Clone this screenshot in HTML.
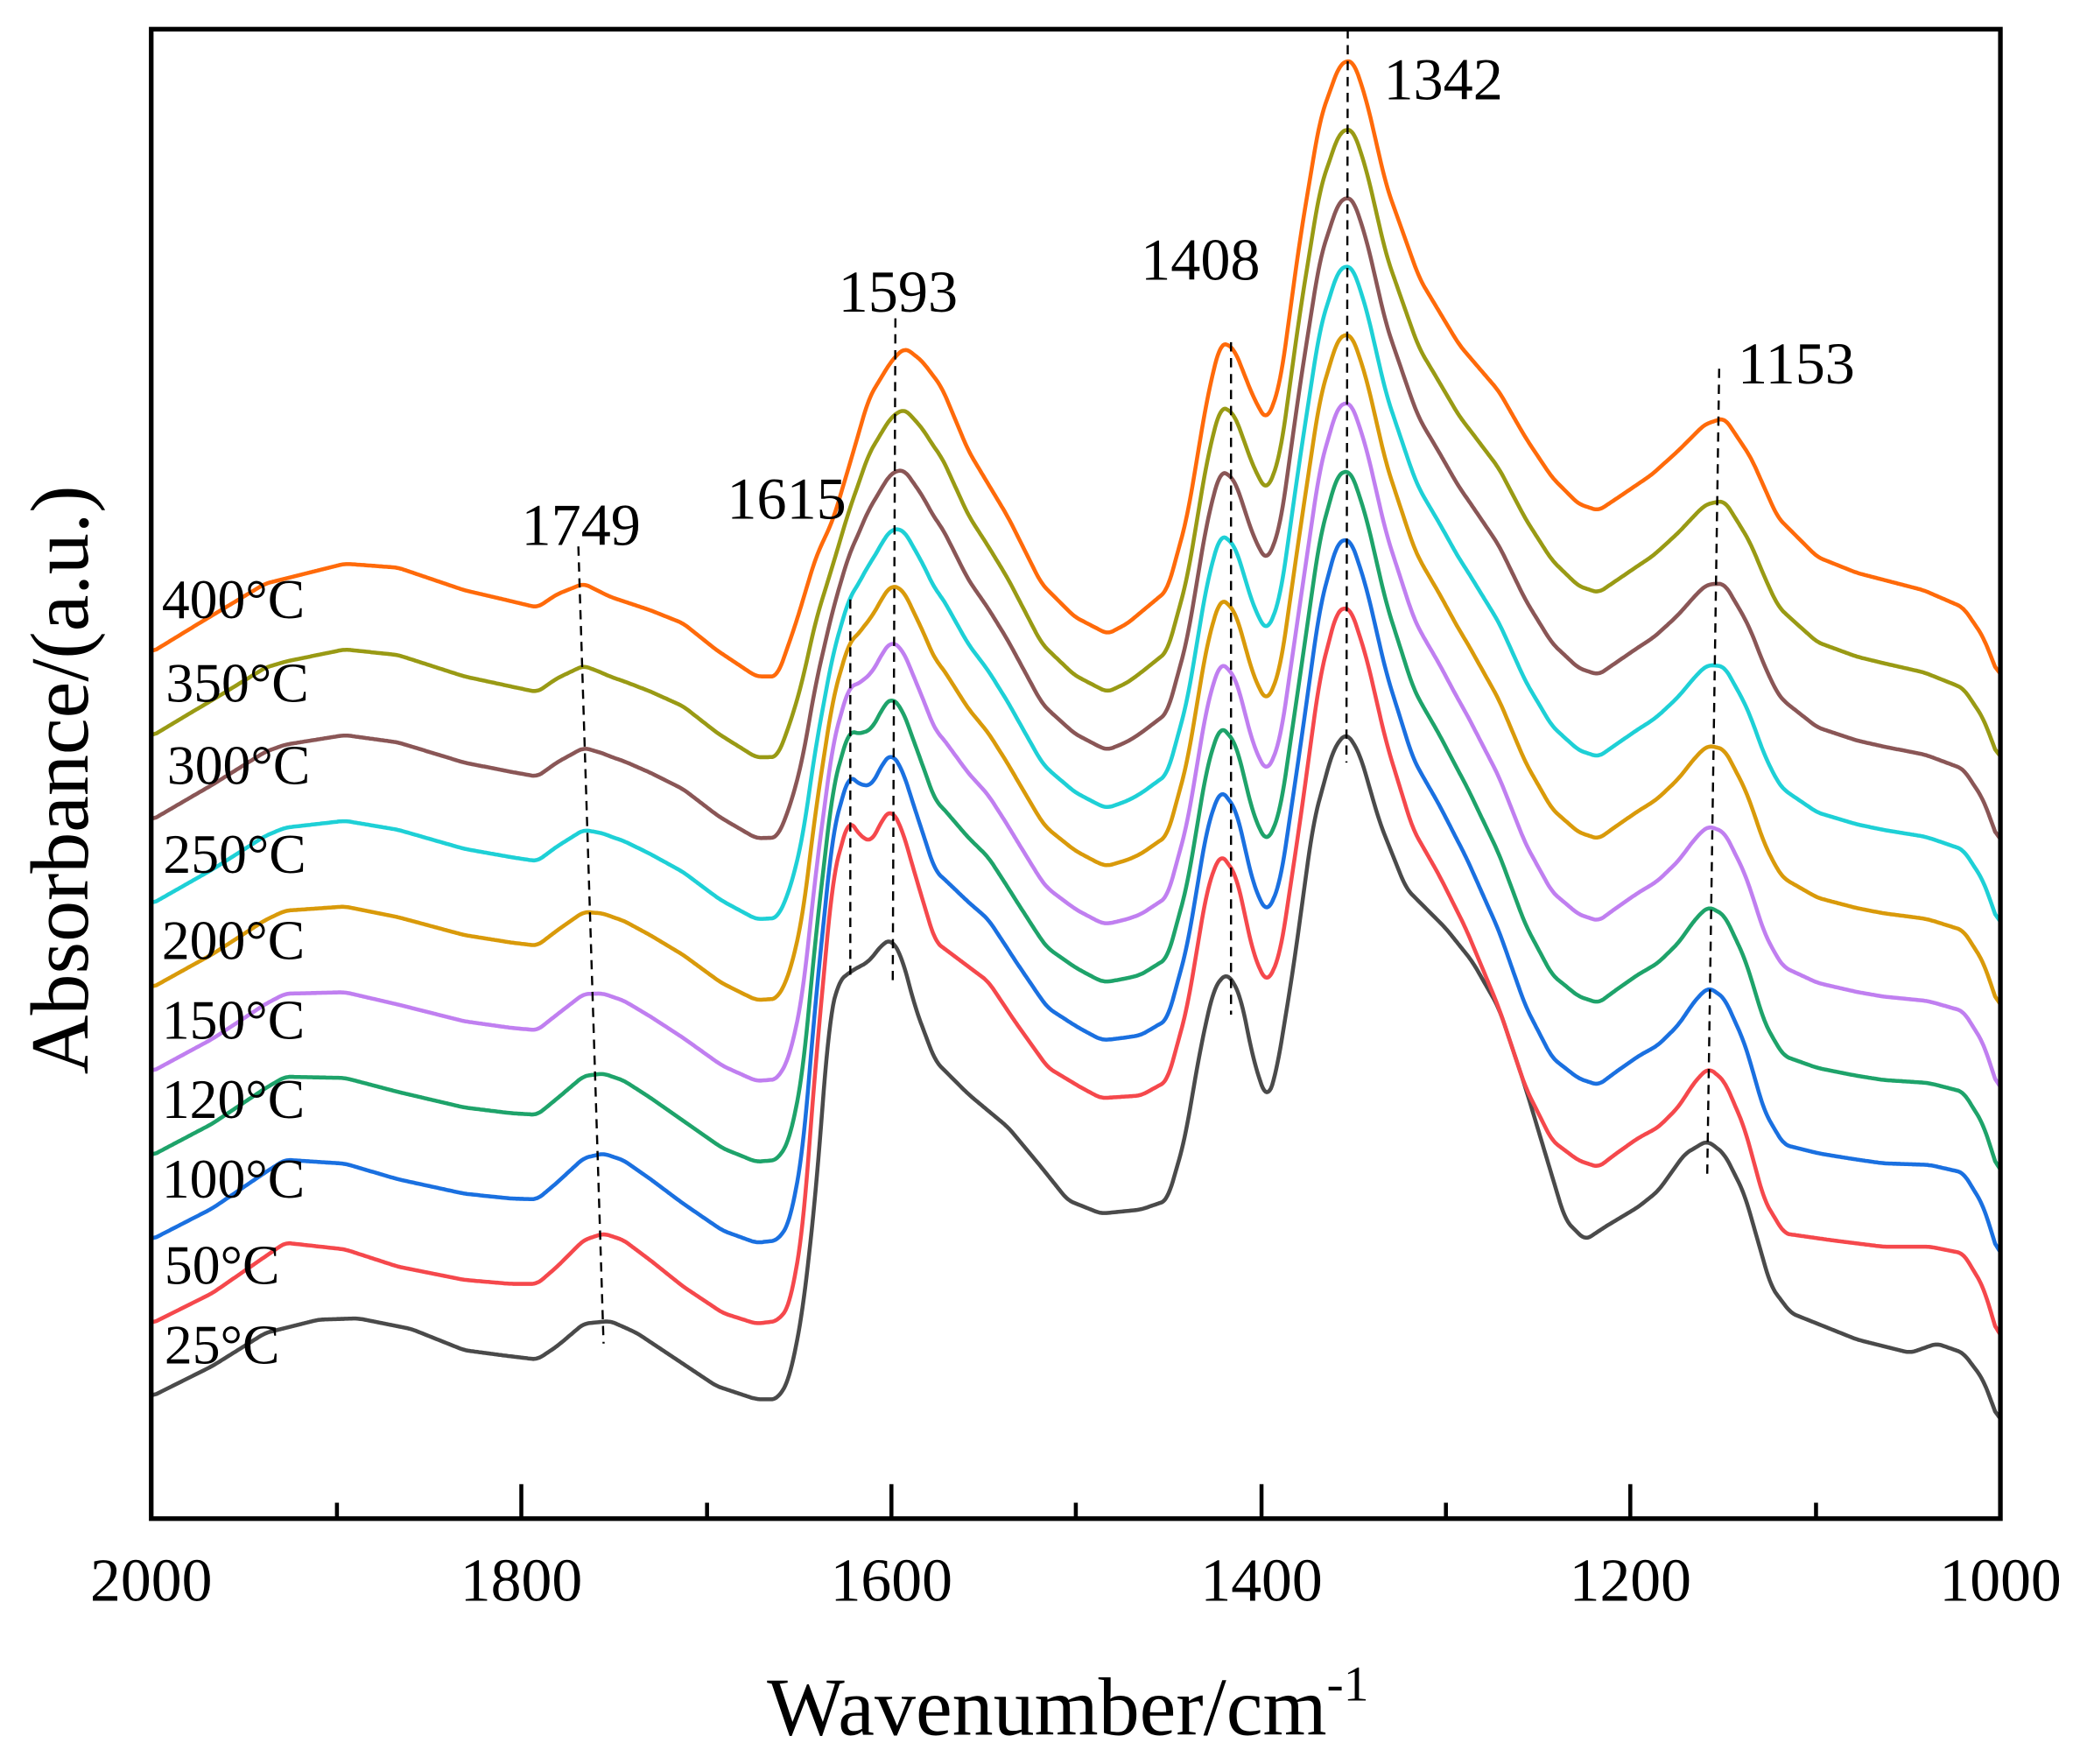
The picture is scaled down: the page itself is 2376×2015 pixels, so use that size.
<!DOCTYPE html>
<html><head><meta charset="utf-8"><style>
html,body{margin:0;padding:0;background:#fff;}
svg{display:block;}
text{font-family:"Liberation Serif",serif;fill:#000;}
</style></head><body>
<svg id="s" width="2376" height="2015" viewBox="0 0 1568 1330" preserveAspectRatio="none" xmlns="http://www.w3.org/2000/svg">
<rect x="0" y="0" width="1568" height="1330" fill="#fff"/>
<g id="curves" fill="none" stroke-width="3" stroke-linejoin="round"></g>
<g stroke="#000" stroke-width="1.6" stroke-dasharray="7,5">
<line x1="436" y1="412" x2="455" y2="1013"/>
<line x1="641" y1="452" x2="641" y2="735"/>
<line x1="675" y1="240" x2="673" y2="740"/>
<line x1="928" y1="258" x2="928" y2="765"/>
<line x1="1016" y1="22" x2="1015" y2="575"/>
<line x1="1296" y1="278" x2="1287" y2="885"/>
</g>
<g font-size="45">
<text x="438" y="411" text-anchor="middle">1749</text>
<text x="593" y="391" text-anchor="middle">1615</text>
<text x="677" y="235" text-anchor="middle">1593</text>
<text x="905" y="211" text-anchor="middle">1408</text>
<text x="1043" y="75">1342</text>
<text x="1310" y="289">1153</text>
</g>
<g font-size="42">
<text x="122" y="466">400°C</text>
<text x="125" y="529">350°C</text>
<text x="126" y="591">300°C</text>
<text x="123" y="658">250°C</text>
<text x="122" y="723">200°C</text>
<text x="122" y="783">150°C</text>
<text x="122" y="843">120°C</text>
<text x="122" y="903">100°C</text>
<text x="124" y="968">50°C</text>
<text x="124" y="1028">25°C</text>
</g>
<rect x="114" y="22" width="1394" height="1123" fill="none" stroke="#000" stroke-width="3.5"/>
<g stroke="#000" stroke-width="3">
<line x1="393" y1="1145" x2="393" y2="1119"/>
<line x1="672" y1="1145" x2="672" y2="1119"/>
<line x1="951" y1="1145" x2="951" y2="1119"/>
<line x1="1229" y1="1145" x2="1229" y2="1119"/>
<line x1="254" y1="1145" x2="254" y2="1133"/>
<line x1="533" y1="1145" x2="533" y2="1133"/>
<line x1="811" y1="1145" x2="811" y2="1133"/>
<line x1="1090" y1="1145" x2="1090" y2="1133"/>
<line x1="1369" y1="1145" x2="1369" y2="1133"/>
</g>
<g font-size="46" text-anchor="middle">
<text x="114" y="1207">2000</text>
<text x="393" y="1207">1800</text>
<text x="672" y="1207">1600</text>
<text x="951" y="1207">1400</text>
<text x="1229" y="1207">1200</text>
<text x="1508" y="1207">1000</text>
</g>
<text x="805" y="1308" font-size="62" text-anchor="middle">Wavenumber/cm<tspan font-size="38" dy="-26">-1</tspan></text>
<text transform="translate(66,588) rotate(-90)" font-size="62" text-anchor="middle">Absorbance/(a.u.)</text>
</svg>
<script>
var black=[[114,1053],[160,1030],[200,1005],[240,995],[270,994],[310,1002],[350,1018],[380,1022],[405,1025],[420,1015],[440,998],[460,996],[480,1005],[510,1025],[540,1045],[570,1055],[586,1055],[595,1040],[605,990],[615,900],[625,770],[632,740],[642,732],[655,725],[665,712],[672,708],[680,722],[690,760],[705,800],[730,825],[760,850],[785,880],[805,905],[830,915],[860,912],[880,905],[893,860],[905,790],[915,745],[925,733],[935,750],[945,800],[955,830],[962,810],[975,730],[990,620],[1005,565],[1015,552],[1025,568],[1040,620],[1060,670],[1090,700],[1110,725],[1130,760],[1150,820],[1165,870],[1180,920],[1195,935],[1210,925],[1235,910],[1250,898],[1270,870],[1287,860],[1300,870],[1315,900],[1335,970],[1350,990],[1375,1000],[1400,1010],[1420,1015],[1440,1020],[1460,1013],[1480,1020],[1495,1040],[1508,1075]];
var red=[[114,998],[160,975],[215,937],[260,942],[300,955],[350,965],[385,968],[405,968],[420,955],[440,935],[455,930],[470,935],[490,950],[515,970],[545,990],[570,998],[586,996],[595,985],[605,930],[615,800],[628,660],[640,617],[648,630],[657,635],[665,618],[672,610],[680,625],[690,660],[705,710],[725,725],[745,740],[765,770],[790,805],[815,820],[830,828],[860,826],[880,815],[895,760],[910,670],[920,643],[932,660],[945,720],[955,742],[965,720],[980,620],[995,510],[1008,460],[1018,458],[1030,495],[1045,560],[1065,625],[1085,660],[1105,700],[1130,760],[1150,820],[1170,860],[1190,875],[1205,880],[1218,870],[1235,858],[1250,850],[1265,835],[1278,815],[1288,805],[1300,815],[1315,850],[1330,905],[1345,930],[1380,935],[1420,940],[1455,940],[1480,945],[1495,970],[1508,1013]];
var orange=[[114,492],[150,470],[200,440],[260,425],[300,428],[350,445],[380,452],[405,458],[420,448],[440,440],[460,450],[490,460],[515,470],[540,490],[570,510],[586,510],[600,470],[615,420],[628,392],[642,345],[655,300],[672,272],[682,262],[695,272],[710,292],[730,340],[760,390],[785,440],[810,465],[835,478],[850,470],[880,445],[895,390],[910,300],[920,258],[930,262],[945,300],[955,318],[965,290],[980,180],[995,90],[1010,48],[1020,45],[1030,75],[1045,140],[1070,210],[1100,260],[1130,295],[1150,330],[1170,360],[1190,380],[1205,385],[1220,375],[1245,358],[1265,340],[1285,320],[1300,315],[1320,345],[1340,390],[1370,420],[1400,432],[1450,445],[1480,458],[1495,480],[1508,513]];
function dense(p){var o=[];var j=0;for(var x=114;x<=1508;x++){while(j<p.length-2&&p[j+1][0]<x)j++;var a=p[j],b=p[j+1];var t=(x-a[0])/(b[0]-a[0]);t=Math.max(0,Math.min(1,t));o.push(a[1]+t*(b[1]-a[1]));}
var s=[];for(var i=0;i<o.length;i++){var sum=0,n=0;for(var k=-4;k<=4;k++){var q=i+k;if(q>=0&&q<o.length){sum+=o[q];n++;}}s.push(sum/n);}return s;}
var B=dense(black),R=dense(red),O=dense(orange);
var cols=["#4a4a4a","#f5484c","#1a70e0","#1ea36a","#c07ff0","#d99a0a","#1ed0d6","#8a5656","#999a14","#ff6a0a"];
var g=document.getElementById("curves");var html="";
for(var c=0;c<10;c++){var arr;if(c==0)arr=B;else{var t=(c-1)/8;arr=R.map(function(v,i){return v+t*(O[i]-v);});}
var d="M114,"+arr[0].toFixed(1);for(var i=1;i<arr.length;i++)d+=" L"+(114+i)+","+arr[i].toFixed(1);
html+='<path d="'+d+'" stroke="'+cols[c]+'"/>';}
g.innerHTML=html;
</script>
</body></html>
